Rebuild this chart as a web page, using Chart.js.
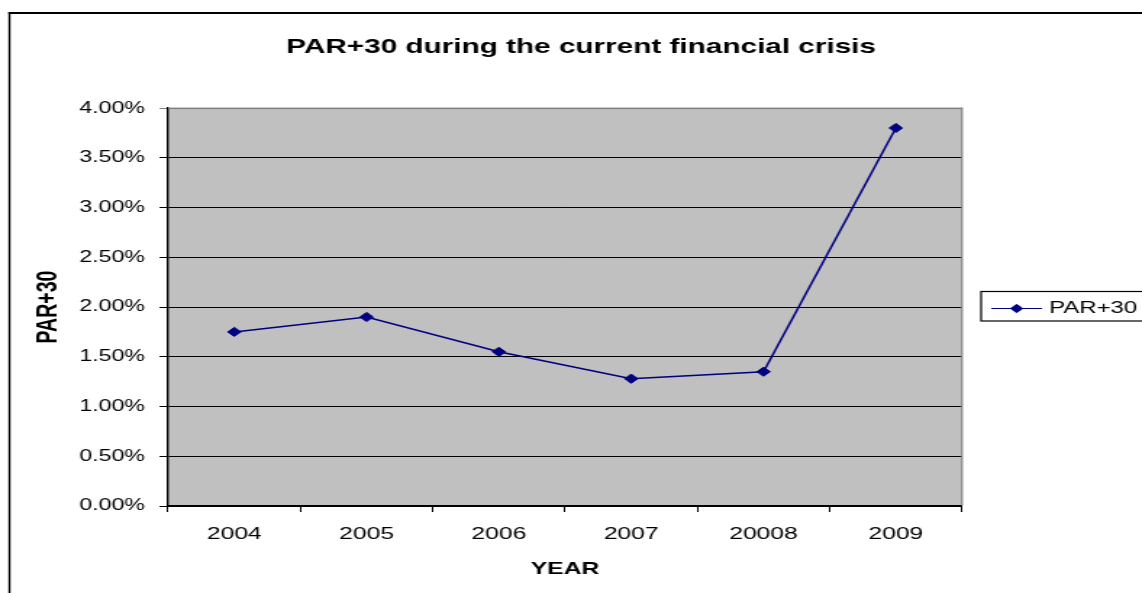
<!DOCTYPE html>
<html>
<head>
<meta charset="utf-8">
<script src="https://cdn.jsdelivr.net/npm/chart.js@4.4.1/dist/chart.umd.min.js"></script>
<style>
  html, body { margin: 0; padding: 0; background: #fff; overflow: hidden; }
  /* the original picture is stretched sideways, so draw narrow and widen it */
  #wrap { width: 788px; height: 593px; transform: scaleX(1.4492); transform-origin: 0 0; }
</style>
</head>
<body>
<div id="wrap"><canvas id="myChart" width="788" height="593"></canvas></div>
<script>
const years = ['2004', '2005', '2006', '2007', '20008', '2009'];
const par30 = [1.75, 1.90, 1.55, 1.28, 1.35, 3.80];
const yMin = 0, yMax = 4, yStep = 0.5;

const ctx = document.getElementById('myChart');

// grey plot area, outer frame and the boxed legend
const excelLook = {
  id: 'excelLook',
  beforeDraw(chart) {
    const c = chart.ctx, a = chart.chartArea;
    c.save();
    c.fillStyle = '#fff';
    c.fillRect(0, 0, chart.width, chart.height);
    c.fillStyle = '#c0c0c0';
    c.fillRect(a.left, a.top, a.right - a.left, a.bottom - a.top);
    c.fillStyle = '#000';
    c.fillRect(5.8, 12, 1.4, chart.height);
    c.fillRect(5.8, 12, chart.width, 2);
    c.restore();
  },
  beforeDatasetsDraw(chart) {
    const c = chart.ctx, a = chart.chartArea;
    c.save();
    c.fillStyle = '#808080';
    c.fillRect(a.left, a.top - 0.5, a.right - a.left, 1.5);
    c.fillRect(a.right - 0.6, a.top - 0.5, 1.2, a.bottom - a.top);
    c.restore();
  },
  afterDraw(chart) {
    const c = chart.ctx;
    const ds = chart.data.datasets[0];
    const y = 308.5;
    c.save();
    c.strokeStyle = '#000';
    c.lineWidth = 1.2;
    c.strokeRect(677, 291.5, 200, 29.5);
    c.strokeStyle = ds.borderColor;
    c.lineWidth = 1.2;
    c.beginPath();
    c.moveTo(684, y);
    c.lineTo(719, y);
    c.stroke();
    c.fillStyle = ds.pointBackgroundColor;
    c.strokeStyle = ds.pointBorderColor;
    c.lineWidth = 1;
    Chart.helpers.drawPoint(c, {pointStyle: ds.pointStyle, radius: 4.2, borderWidth: 1}, 701.5, y);
    c.fillStyle = '#000';
    c.font = '16.5px "Liberation Sans", Arial, sans-serif';
    c.textBaseline = 'middle';
    c.fillText(ds.label, 724, y);
    c.restore();
  }
};

new Chart(ctx, {
  type: 'line',
  data: {
    labels: years,
    datasets: [{
      label: 'PAR+30',
      data: par30,
      borderColor: '#000080',
      borderWidth: 1.5,
      pointStyle: 'rectRot',
      pointRadius: 4.6,
      pointBackgroundColor: '#000080',
      pointBorderColor: '#000080',
      pointBorderWidth: 1,
      tension: 0
    }]
  },
  options: {
    responsive: false,
    animation: false,
    events: [],
    layout: { padding: { left: 14, right: 0, top: 0, bottom: 0 } },
    plugins: {
      legend: { display: false },
      tooltip: { enabled: false },
      title: {
        display: true,
        text: 'PAR+30 during the current financial crisis',
        color: '#000',
        font: { family: '"Liberation Sans", Arial, sans-serif', size: 20.5, weight: 'bold' },
        padding: { top: 35.5, bottom: 48 }
      }
    },
    scales: {
      x: {
        offset: true,
        grid: { display: true, drawOnChartArea: false, offset: true, tickLength: 6, color: '#000', lineWidth: 1 },
        border: { display: true, color: '#000', width: 2 },
        ticks: {
          color: '#000',
          padding: 12,
          maxRotation: 0,
          font: { family: '"Liberation Sans", Arial, sans-serif', size: 17 }
        },
        title: {
          display: true,
          text: 'YEAR',
          color: '#000',
          font: { family: '"Liberation Sans", Arial, sans-serif', size: 17, weight: 'bold' },
          padding: { top: 0, bottom: 13 }
        },
        afterFit(scale) { scale.height = 87; }
      },
      y: {
        min: yMin,
        max: yMax,
        grid: {
          color: (c) => (c.tick && c.tick.value === yMax ? '#808080' : '#000'),
          lineWidth: 1,
          tickLength: 6
        },
        border: { display: true, color: '#000', width: 1.4 },
        ticks: {
          stepSize: yStep,
          color: '#000',
          padding: 10,
          font: { family: '"Liberation Sans", Arial, sans-serif', size: 16 },
          callback: (v) => v.toFixed(2) + '%'
        },
        title: {
          display: true,
          text: 'PAR+30',
          color: '#000',
          font: { family: '"Liberation Sans", Arial, sans-serif', size: 19.5, weight: 'bold' },
          padding: { top: 7.5, bottom: 0 }
        },
        afterFit(scale) { scale.width = 102; }
      },
      side: {
        type: 'linear',
        position: 'right',
        display: true,
        grid: { display: false },
        border: { display: false },
        ticks: { display: false },
        afterFit(scale) { scale.width = 124.2; }
      }
    }
  },
  plugins: [excelLook]
});
</script>
</body>
</html>
